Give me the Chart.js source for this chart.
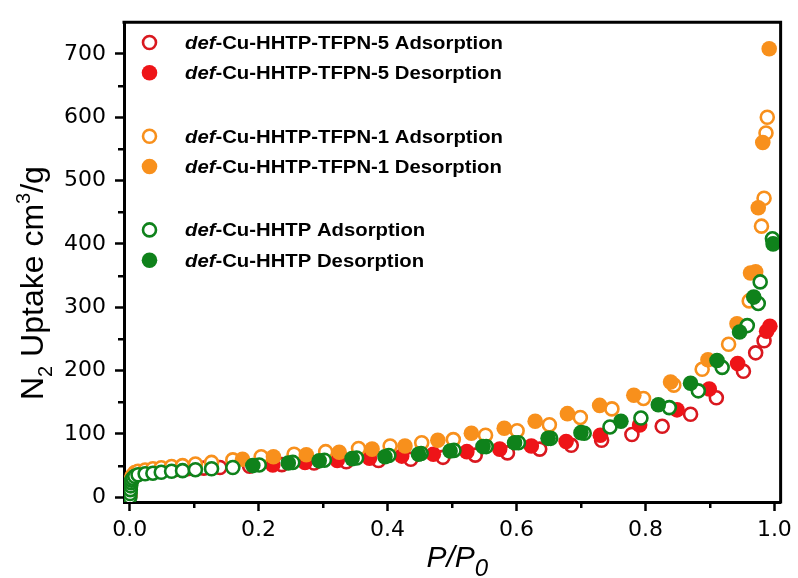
<!DOCTYPE html>
<html>
<head>
<meta charset="utf-8">
<script src="https://cdn.jsdelivr.net/npm/chart.js@4/dist/chart.umd.min.js"></script>
<style>
  html, body { margin: 0; padding: 0; background: #fff; }
  #wrap { width: 798px; height: 578px; }
</style>
</head>
<body>
<div id="wrap"><canvas id="c" width="798" height="578"></canvas></div>
<script>
// N2 isotherms (77 K): relative pressure P/P0 and uptake in cm3/g

// def-Cu-HHTP-TFPN-5
const tfpn5AdsP = [0.0003, 0.001, 0.002, 0.004, 0.007, 0.012, 0.022, 0.035, 0.05, 0.07, 0.09, 0.115, 0.14, 0.186, 0.236, 0.286, 0.336, 0.386, 0.436, 0.486, 0.536, 0.586, 0.636, 0.685, 0.732, 0.779, 0.826, 0.870, 0.910, 0.952, 0.971, 0.984];
const tfpn5AdsV = [2, 15, 25, 30, 34, 37, 39, 40.5, 42, 43.5, 45, 46, 47, 49, 51.5, 54, 56, 58, 60, 63, 66.5, 70, 76, 82, 90, 99, 112, 131, 157, 199, 228, 247];
const tfpn5DesP = [0.993, 0.988, 0.943, 0.899, 0.849, 0.791, 0.730, 0.677, 0.623, 0.574, 0.523, 0.471, 0.422, 0.372, 0.322, 0.272, 0.222];
const tfpn5DesV = [270, 262, 211, 171, 138, 114, 98, 88, 81, 76, 72, 68, 65, 61.5, 58, 55, 51];

// def-Cu-HHTP-TFPN-1
const tfpn1AdsP = [0.0003, 0.001, 0.002, 0.004, 0.008, 0.013, 0.024, 0.036, 0.049, 0.065, 0.082, 0.102, 0.127, 0.16, 0.204, 0.255, 0.304, 0.355, 0.404, 0.453, 0.502, 0.552, 0.601, 0.651, 0.699, 0.748, 0.797, 0.844, 0.888, 0.929, 0.961, 0.980, 0.984, 0.987, 0.989];
const tfpn1AdsV = [5, 20, 28, 34, 39, 41, 43, 45, 46.5, 48.5, 50, 52.5, 55, 59, 64, 68, 72, 77, 81, 86, 91, 98, 105, 114.5, 126, 139.5, 156, 177, 202, 241.5, 310, 428, 472, 575, 600];
const tfpn1DesP = [0.992, 0.982, 0.975, 0.971, 0.963, 0.942, 0.897, 0.839, 0.782, 0.729, 0.679, 0.629, 0.581, 0.530, 0.478, 0.427, 0.376, 0.325, 0.274, 0.223, 0.175];
const tfpn1DesV = [708, 560, 457, 356, 354, 274, 217, 182, 161, 145, 132, 120, 109, 101, 90, 81, 76, 71, 67, 64, 60];

// def-Cu-HHTP
const hhtpAdsP = [0.0002, 0.0006, 0.001, 0.0015, 0.002, 0.003, 0.005, 0.008, 0.013, 0.024, 0.036, 0.049, 0.065, 0.082, 0.102, 0.127, 0.16, 0.201, 0.253, 0.302, 0.352, 0.402, 0.452, 0.503, 0.553, 0.603, 0.653, 0.705, 0.745, 0.793, 0.837, 0.882, 0.919, 0.958, 0.975, 0.978, 0.997];
const hhtpAdsV = [0, 6, 12, 18, 23, 27, 30, 33, 35.5, 37, 38, 39.5, 41, 42, 43.5, 45, 47, 51, 55, 58.5, 62, 66, 69, 74, 80, 86, 93, 101, 111, 125, 141.5, 168, 205, 271, 306, 340, 408];
const hhtpDesP = [0.998, 0.968, 0.946, 0.911, 0.870, 0.820, 0.762, 0.700, 0.649, 0.597, 0.548, 0.497, 0.448, 0.396, 0.345, 0.294, 0.246, 0.191];
const hhtpDesV = [400, 316, 261, 216, 180, 146, 120, 102, 93, 86, 80, 73, 68, 64, 61, 57.5, 54, 50];

// axis ticks
const xTicks = [0.0, 0.2, 0.4, 0.6, 0.8, 1.0];
const xMinor = [0.1, 0.3, 0.5, 0.7, 0.9];
const yTicks = [0, 100, 200, 300, 400, 500, 600, 700];
const yMinor = [50, 150, 250, 350, 450, 550, 650];

const RED_RING = '#d9181f', RED = '#ee1418', ORANGE = '#f8901c', GREEN = '#0f821b';

const pts = (xs, ys) => xs.map((x, i) => ({ x, y: ys[i] }));

function hollow(label, xs, ys, color, order) {
  return { label, data: pts(xs, ys), showLine: false, order,
    pointRadius: 6.5, pointHoverRadius: 6.5, pointBorderWidth: 2.6,
    pointBackgroundColor: '#ffffff', pointBorderColor: color };
}
function solid(label, xs, ys, color, order) {
  return { label, data: pts(xs, ys), showLine: false, order,
    pointRadius: 7.8, pointHoverRadius: 7.8, pointBorderWidth: 0,
    pointBackgroundColor: color, pointBorderColor: color };
}

const datasets = [
  hollow('def-Cu-HHTP-TFPN-5 Adsorption', tfpn5AdsP, tfpn5AdsV, RED_RING, 6),
  solid('def-Cu-HHTP-TFPN-5 Desorption', tfpn5DesP, tfpn5DesV, RED, 5),
  hollow('def-Cu-HHTP-TFPN-1 Adsorption', tfpn1AdsP, tfpn1AdsV, ORANGE, 4),
  solid('def-Cu-HHTP-TFPN-1 Desorption', tfpn1DesP, tfpn1DesV, ORANGE, 3),
  hollow('def-Cu-HHTP Adsorption', hhtpAdsP, hhtpAdsV, GREEN, 2),
  solid('def-Cu-HHTP Desorption', hhtpDesP, hhtpDesV, GREEN, 1)
];

const FONT = '"Liberation Sans", Arial, sans-serif';

// frame, minor ticks, legend and axis titles
const decor = {
  id: 'decor',
  afterDraw(chart) {
    const { ctx, chartArea: a, scales: { x, y } } = chart;
    ctx.save();
    ctx.strokeStyle = '#000';
    ctx.lineWidth = 3;
    ctx.beginPath();
    ctx.moveTo(a.left - 1.5, a.top);
    ctx.lineTo(a.right, a.top);
    ctx.lineTo(a.right, a.bottom + 1.5);
    ctx.stroke();

    ctx.lineWidth = 2.5;
    yMinor.forEach(v => {
      const py = Math.round(y.getPixelForValue(v)) + 0.25;
      ctx.beginPath(); ctx.moveTo(a.left, py); ctx.lineTo(a.left - 6, py); ctx.stroke();
    });
    xMinor.forEach(v => {
      const px = Math.round(x.getPixelForValue(v)) + 0.25;
      ctx.beginPath(); ctx.moveTo(px, a.bottom); ctx.lineTo(px, a.bottom + 6); ctx.stroke();
    });

    // legend
    chart.data.datasets.forEach((ds, i) => {
      const cy = 42.5 + Math.floor(i / 2) * 93.7 + (i % 2) * 30.3;
      const cx = 149.5;
      ctx.beginPath();
      ctx.arc(cx, cy, ds.pointRadius, 0, Math.PI * 2);
      ctx.fillStyle = ds.pointBackgroundColor;
      ctx.fill();
      if (ds.pointBorderWidth > 0) {
        ctx.lineWidth = ds.pointBorderWidth;
        ctx.strokeStyle = ds.pointBorderColor;
        ctx.stroke();
      }
      const prefix = ds.label.slice(0, 3);
      const rest = ds.label.slice(3);
      ctx.save();
      ctx.translate(185, cy + 6.3);
      ctx.scale(1.16, 1);
      ctx.fillStyle = '#000';
      ctx.textBaseline = 'alphabetic';
      ctx.font = 'italic bold 17.5px ' + FONT;
      ctx.fillText(prefix, 0, 0);
      const w = ctx.measureText(prefix).width;
      ctx.font = 'bold 17.5px ' + FONT;
      ctx.fillText(rest, w, 0);
      ctx.restore();
    });

    // y axis title
    ctx.save();
    ctx.translate(43, 400);
    ctx.rotate(-Math.PI / 2);
    ctx.fillStyle = '#000';
    ctx.textBaseline = 'alphabetic';
    let xx = 0;
    const seg = (t, size, dy, style) => {
      ctx.font = (style || '') + ' ' + size + 'px ' + FONT;
      ctx.fillText(t, xx, dy);
      xx += ctx.measureText(t).width;
    };
    seg('N', 32, 0); seg('2', 20, 9); seg(' Uptake cm', 32, 0); seg('3', 20, -13); seg('/g', 32, 0);
    ctx.restore();

    // x axis title
    ctx.save();
    ctx.fillStyle = '#000';
    ctx.textBaseline = 'alphabetic';
    ctx.font = 'italic 30px ' + FONT;
    const main = 'P/P';
    const mw = ctx.measureText(main).width;
    ctx.font = 'italic 24px ' + FONT;
    const sw = ctx.measureText('0').width;
    const start = (a.left + a.right) / 2 + 5 - (mw + sw) / 2;
    ctx.font = 'italic 30px ' + FONT;
    ctx.fillText(main, start, 567);
    ctx.font = 'italic 24px ' + FONT;
    ctx.fillText('0', start + mw, 576);
    ctx.restore();

    ctx.restore();
  }
};

const tickFont = { family: '"DejaVu Sans", sans-serif', size: 22 };

new Chart(document.getElementById('c'), {
  type: 'scatter',
  data: { datasets },
  options: {
    responsive: false,
    devicePixelRatio: 1,
    animation: false,
    events: [],
    layout: { padding: { top: 14, right: 14, left: 0, bottom: 0 } },
    plugins: { legend: { display: false }, tooltip: { enabled: false } },
    scales: {
      x: {
        type: 'linear',
        min: -0.0088, max: 1.0097,
        afterBuildTicks: s => { s.ticks = xTicks.map(v => ({ value: v })); },
        afterFit: s => { s.height = 76; },
        ticks: { font: tickFont, color: '#000', padding: 6, maxRotation: 0,
          callback: v => Number(v).toFixed(1) },
        grid: { drawOnChartArea: false, drawTicks: true, tickLength: 9, tickWidth: 2.5, tickColor: '#000' },
        border: { display: true, color: '#000', width: 3 }
      },
      y: {
        type: 'linear',
        min: -7.5, max: 750,
        afterBuildTicks: s => { s.ticks = yTicks.map(v => ({ value: v })); },
        afterFit: s => { s.width = 124; },
        ticks: { font: tickFont, color: '#000', padding: 9,
          callback: v => String(v) },
        grid: { drawOnChartArea: false, drawTicks: true, tickLength: 9, tickWidth: 2.5, tickColor: '#000' },
        border: { display: true, color: '#000', width: 3 }
      }
    }
  },
  plugins: [decor]
});
</script>
</body>
</html>
